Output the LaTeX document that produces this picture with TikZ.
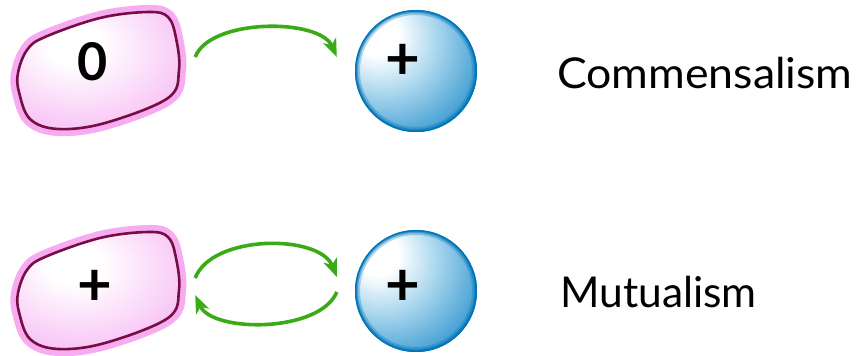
\documentclass[tikz,border=0pt]{standalone}
\usepackage{fontspec}
\setmainfont{Lato}
\usetikzlibrary{arrows.meta}
\definecolor{glowpink}{RGB}{247,172,242}
\definecolor{blobedge}{RGB}{118,14,68}
\definecolor{blobpink}{RGB}{245,166,241}
\definecolor{sphblue}{RGB}{0,116,184}
\definecolor{sphmid}{RGB}{55,152,208}
\definecolor{sphlight}{RGB}{170,215,238}
\definecolor{arrgreen}{RGB}{58,170,22}
\pgfdeclareradialshading{blobshade}{\pgfpoint{-8bp}{12bp}}{color(0bp)=(white);color(8bp)=(white);color(46bp)=(blobpink);color(90bp)=(blobpink)}
\pgfdeclareradialshading{sphshade}{\pgfpoint{-18bp}{17bp}}{color(0bp)=(white);color(9bp)=(white);color(22bp)=(sphlight);color(40bp)=(sphmid);color(56bp)=(sphblue!85!sphmid);color(68bp)=(sphblue);color(90bp)=(sphblue)}
\newcommand\myblob{plot[smooth cycle,tension=0.6] coordinates{(18,73)(27,50)(45,37)(100,18)(148,12)(168,17)(176,38)(179,70)(168,98)(105,123)(58,129)(30,119)(19,92)}}
\tikzset{
  glowline/.style={draw=glowpink,line width=14pt,line join=round},
  blobline/.style={draw=blobedge,line width=2.6pt},
  blobbox/.style={minimum width=162pt,minimum height=118pt,inner sep=0pt},
  sphere/.style={circle,minimum size=122pt,inner sep=0pt,shade,shading=sphshade},
  digit/.style={font=\fontsize{52}{52}\selectfont\bfseries,inner sep=0pt},
  sign/.style={font=\fontsize{60}{60}\selectfont\bfseries,inner sep=0pt},
  lbl/.style={font=\fontsize{42.5}{43}\selectfont,inner sep=0pt,anchor=base west},
  arr/.style={draw=arrgreen,line width=3.6pt,-{Stealth[length=18pt,width=14pt,inset=5pt]}}
}
\newcommand\sphrim[1]{%
  \begin{scope}
  \clip (#1.center) circle[radius=61pt];
  \draw[sphblue,line width=10pt,opacity=0.3] (#1.center) circle[radius=61pt];
  \draw[sphblue,line width=6pt,opacity=0.5] (#1.center) circle[radius=61pt];
  \draw[sphblue,line width=3pt] (#1.center) circle[radius=61pt];
  \end{scope}}
\begin{document}
\begin{tikzpicture}[x=1pt,y=-1pt]
\useasboundingbox (0,0) rectangle (868,356);
% top row
\draw[glowline] \myblob;
\shade[shading=blobshade] \myblob;
\draw[blobline] \myblob;
\node[blobbox] (b1) at (99,70) {};
\node[digit] (t1) at (93,62) {0};
\node[sphere] (s1) at (416,71) {};
\sphrim{s1}
\node[sign] (p1) at (403,62) {+};
\node[lbl,xscale=1.05] (l1) at (557,88) {Commensalism};
\draw[arr] ([shift={(15,-13)}]b1.east) .. controls +(15,-39) and +(-17,-39) .. ([shift={(-18,-14)}]s1.west);
% bottom row
\begin{scope}[shift={(0,220)}]
\draw[glowline] \myblob;
\shade[shading=blobshade] \myblob;
\draw[blobline] \myblob;
\end{scope}
\node[blobbox] (b2) at (99,290) {};
\node[sign] (t2) at (95,288) {+};
\node[sphere] (s2) at (416,291) {};
\sphrim{s2}
\node[sign] (p2) at (403,288) {+};
\node[lbl] (l2) at (560,307) {Mutualism};
\draw[arr] ([shift={(15,-12)}]b2.east) .. controls +(17,-44) and +(-17,-43) .. ([shift={(-18,-14)}]s2.west);
\draw[arr] ([shift={(-18,1)}]s2.west) .. controls +(-17,41) and +(17,38) .. ([shift={(15,5)}]b2.east);
\end{tikzpicture}
\end{document}
